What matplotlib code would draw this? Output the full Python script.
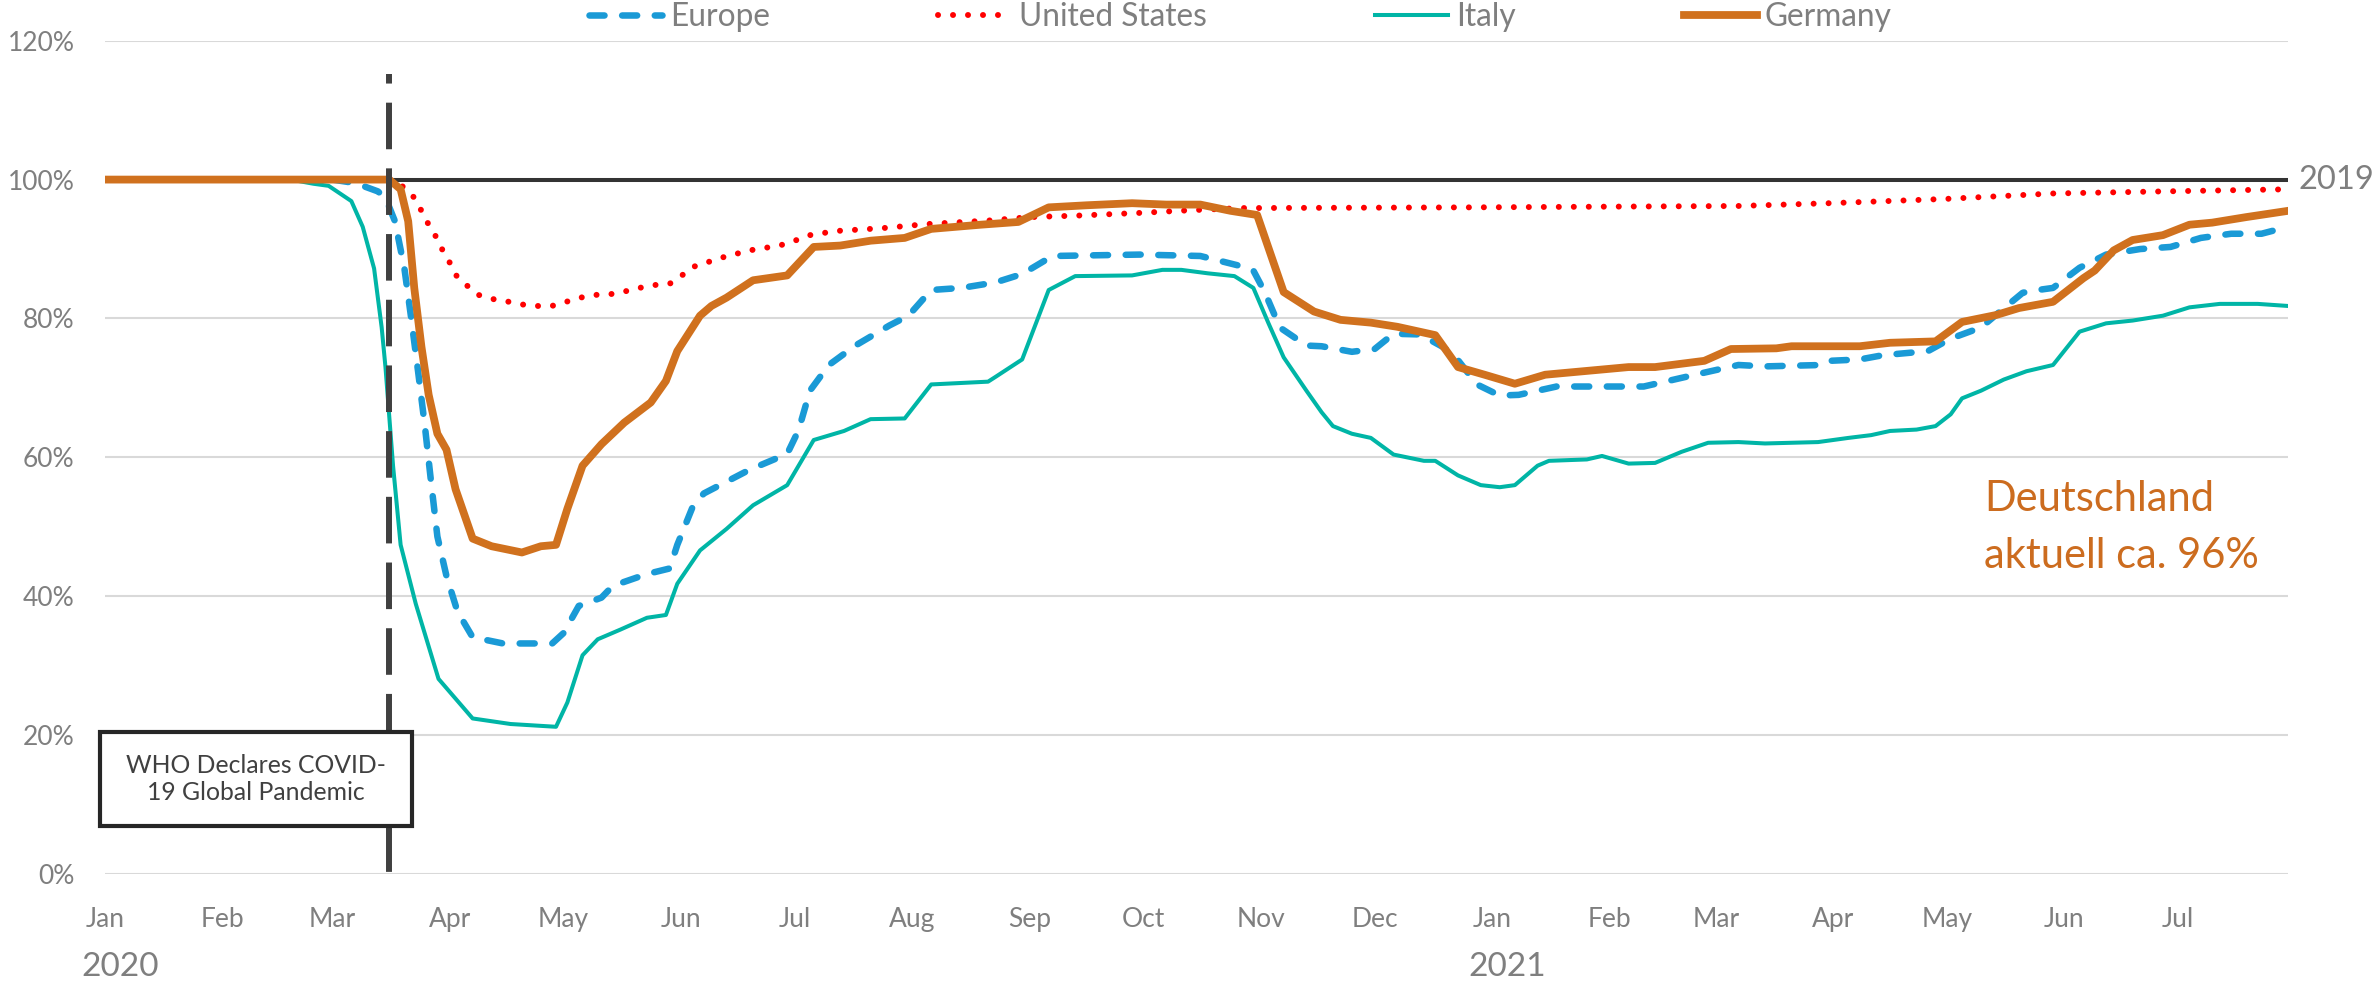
import numpy as np
import pandas as pd
import matplotlib
matplotlib.use("Agg")
import matplotlib.pyplot as plt
import matplotlib.dates as mdates
from matplotlib.patches import Rectangle

plt.rcParams['font.family'] = ['Lato', 'DejaVu Sans']

# days since 2020-01-01, values in % of 2019 level
europe_days = [0, 60, 66, 72, 74, 76.5, 79, 80.7, 82.6, 84.4, 85.9, 87.7, 90.1, 93, 97, 105, 118, 121, 125,
               131, 134, 143, 149, 151, 155, 158, 170, 180, 183, 186, 191, 198, 207, 212, 218, 226, 235, 242,
               250, 273, 289, 300, 303, 306, 310, 317, 321, 329, 335, 340, 347, 353, 356, 362, 368, 373, 383,
               406, 414, 422, 431, 438, 453, 455, 463, 469, 481, 487, 495, 500, 506, 510, 514, 521, 528, 537,
               545, 553, 561, 569, 576]
europe_vals = [100, 100, 99.5, 98.3, 97.4, 94, 87.2, 80.4, 72.4, 64.5, 57.1, 48.6, 42.9, 37.8, 34.1, 33.2, 33.2,
               34.7, 38.6, 39.8, 41.5, 43.2, 44, 47.4, 52.8, 54.8, 58.2, 60.5, 63.9, 69.6, 73.3, 76.1, 79, 80.4,
               84.1, 84.4, 85.2, 86.4, 89, 89.2, 89, 87.5, 86.9, 83.8, 78.7, 76.1, 76, 75.2, 75.6, 77.8, 77.7,
               75.9, 74.7, 70.5, 68.9, 69, 70.2, 70.2, 71.2, 72.2, 73.3, 73.1, 73.3, 73.9, 74.1, 74.7, 75.3,
               77.1, 78.7, 81, 83.7, 84.1, 84.4, 87.3, 89.2, 90, 90.3, 91.6, 92.2, 92.2, 93.2]

us_days = [0, 76, 78.8, 81.6, 83.5, 85.4, 87.3, 89.1, 91, 92.8, 95.6, 98.5, 102.3, 106.6, 110.3, 114.1, 117.9,
           121.7, 125.4, 129.7, 133.4, 137.2, 141, 144.7, 149, 152, 155, 163, 170, 178, 182, 186, 193, 205,
           217, 233, 244, 256, 273, 287, 300, 360, 431, 455, 485, 514, 543, 576]
us_vals = [100, 100, 98.9, 97.4, 95.5, 93.5, 91.8, 89.8, 88, 86.1, 84.7, 83.4, 82.8, 82.4, 82, 81.8, 81.8,
           82.4, 83, 83.4, 83.5, 83.9, 84.4, 84.8, 85, 86.1, 87.4, 88.8, 89.8, 90.5, 91.2, 92, 92.6, 93,
           93.6, 94.1, 94.6, 94.8, 95.2, 95.6, 95.9, 96, 96.2, 96.6, 97.2, 98, 98.3, 98.6]

italy_days = [0, 49, 55, 59, 65, 68, 71, 73, 74, 76, 78, 82, 88, 97, 107, 119, 122, 126, 130, 136, 143, 148,
              151, 157, 164, 171, 180, 187, 195, 202, 211, 218, 233, 235, 242, 249, 256, 271, 279, 284, 291,
              298, 303, 307, 311, 317, 321, 324, 329, 334, 340, 348, 351, 357, 363, 368, 372, 378, 381, 391,
              395, 402, 409, 416, 423, 431, 438, 452, 460, 466, 471, 478, 483, 487, 490, 495, 501, 507, 514,
              521, 528, 535, 543, 550, 558, 568, 576]
italy_vals = [100, 100, 99.4, 99.1, 96.9, 93.2, 87.2, 78.7, 73, 58.8, 47.4, 38.9, 28.1, 22.4, 21.6, 21.2,
              24.7, 31.5, 33.8, 35.2, 36.9, 37.3, 41.8, 46.6, 49.7, 53.1, 56, 62.5, 63.8, 65.5, 65.6, 70.5,
              70.9, 71.6, 74.1, 84.1, 86.1, 86.2, 87, 87, 86.5, 86.1, 84.4, 79.3, 74.4, 69.6, 66.5, 64.5,
              63.4, 62.8, 60.4, 59.5, 59.5, 57.4, 56, 55.7, 56, 58.8, 59.5, 59.7, 60.2, 59.1, 59.2, 60.8,
              62.1, 62.2, 62, 62.2, 62.8, 63.2, 63.8, 64, 64.5, 66.2, 68.5, 69.6, 71.2, 72.4, 73.3, 78.1,
              79.3, 79.7, 80.4, 81.6, 82.1, 82.1, 81.8]

germany_days = [0, 75, 78, 80, 81.6, 83.5, 85.4, 87.7, 90.1, 92.5, 97, 102, 110, 115, 119, 122, 126, 131,
                137, 144, 148, 151, 157, 160, 164, 171, 180, 187, 194, 202, 211, 218, 231, 241, 249, 259,
                271, 280, 289, 297, 304, 311, 319, 326, 334, 341, 351, 357, 364, 372, 380, 402, 409, 422,
                429, 441, 445, 463, 471, 483, 490, 499, 505, 514, 522, 525, 530, 535, 543, 550, 556, 565, 576]
germany_vals = [100, 100, 98.6, 94, 84.4, 75.9, 69, 63.4, 61.1, 55.4, 48.3, 47.2, 46.3, 47.2, 47.4, 52.6,
                58.8, 61.9, 65, 67.9, 71, 75.3, 80.4, 81.8, 83, 85.5, 86.2, 90.3, 90.5, 91.2, 91.6, 92.9,
                93.5, 93.9, 96, 96.3, 96.6, 96.4, 96.4, 95.5, 94.9, 83.8, 81, 79.8, 79.4, 78.8, 77.6, 73,
                71.9, 70.6, 71.9, 73, 73, 73.9, 75.6, 75.7, 76, 76, 76.5, 76.7, 79.5, 80.5, 81.5, 82.4,
                85.8, 86.9, 89.8, 91.3, 92, 93.5, 93.8, 94.6, 95.5]

start = pd.Timestamp("2020-01-01")
end = pd.Timestamp("2021-07-30")
who_date = pd.Timestamp("2020-03-16")


def to_dates(days):
    return start + pd.to_timedelta(np.array(days, dtype=float), unit="D")


gray = "#7F7F7F"

fig = plt.figure(figsize=(23.72, 9.81), dpi=100)
ax = fig.add_axes([0.04427, 0.10907, 0.92032, 0.84944])

for s in ax.spines.values():
    s.set_visible(False)
ax.set_ylim(0, 120)
ax.set_xlim(start, end)
ax.set_yticks(np.arange(0, 121, 20))
ax.yaxis.set_major_formatter(plt.FuncFormatter(lambda v, p: f"{v:.0f}%"))
ax.grid(axis="y", color="#D9D9D9", linewidth=1.5, zorder=0)
ax.xaxis.set_major_locator(mdates.MonthLocator())
ax.xaxis.set_major_formatter(mdates.DateFormatter("%b"))
ax.tick_params(axis="both", length=0, labelsize=19, labelcolor=gray)
ax.tick_params(axis="y", pad=22)
ax.tick_params(axis="x", pad=24)

# 2019 reference level
ax.axhline(100, color="#333333", linewidth=2.9, zorder=2)

ax.plot(to_dates(europe_days), europe_vals, color="#1A9AD6", linewidth=4.7,
        linestyle=(0, (2.3, 2.7)), dash_capstyle="round", label="Europe", zorder=3)
ax.plot(to_dates(us_days), us_vals, color="#FF0000", linewidth=4.3,
        linestyle=(0, (0.01, 2.5)), dash_capstyle="round", label="United States", zorder=3)
ax.plot(to_dates(italy_days), italy_vals, color="#00B5A6", linewidth=2.9,
        label="Italy", zorder=3)
ax.plot(to_dates(germany_days), germany_vals, color="#D0711E", linewidth=5.6,
        label="Germany", zorder=3)

# WHO line
ax.plot([who_date, who_date], [115.2, 0], color="#404040", linewidth=4.3,
        linestyle=(6.2, (7.8, 3.2)), zorder=5, clip_on=False)

box = Rectangle((-0.0023, 0.0576), 0.1429, 0.1127, transform=ax.transAxes,
                facecolor="white", edgecolor="#262626", linewidth=3, zorder=6, clip_on=False)
ax.add_patch(box)
ax.text(0.0692, 0.1138, "WHO Declares COVID-\n19 Global Pandemic", transform=ax.transAxes,
        ha="center", va="center", fontsize=17.8, color="#404040", linespacing=1.2, zorder=7)

ax.text(1.0046, 100, "2019", transform=ax.get_yaxis_transform(), ha="left", va="center",
        fontsize=23.5, color=gray)

orange_txt = "#CC6C1F"
ax.text(0.8607, 52.3, "Deutschland", transform=ax.get_yaxis_transform(), ha="left",
        va="baseline", fontsize=30, color=orange_txt)
ax.text(0.8607, 44.1, "aktuell ca. 96%", transform=ax.get_yaxis_transform(), ha="left",
        va="baseline", fontsize=30, color=orange_txt)

for year, d in [("2020", "2020-01-05"), ("2021", "2021-01-05")]:
    ax.annotate(year, xy=(pd.Timestamp(d), -0.1116), xycoords=("data", "axes fraction"),
                ha="center", va="center", fontsize=24, color=gray, annotation_clip=False)

fig.legend(loc="center", bbox_to_anchor=(0.523, 0.983), ncol=4, frameon=False, fontsize=22.8,
           labelcolor=gray, handlelength=2.3, handletextpad=0.26, columnspacing=5.3,
           borderpad=0, borderaxespad=0)

fig.savefig("out.png", dpi=100, facecolor="white")
